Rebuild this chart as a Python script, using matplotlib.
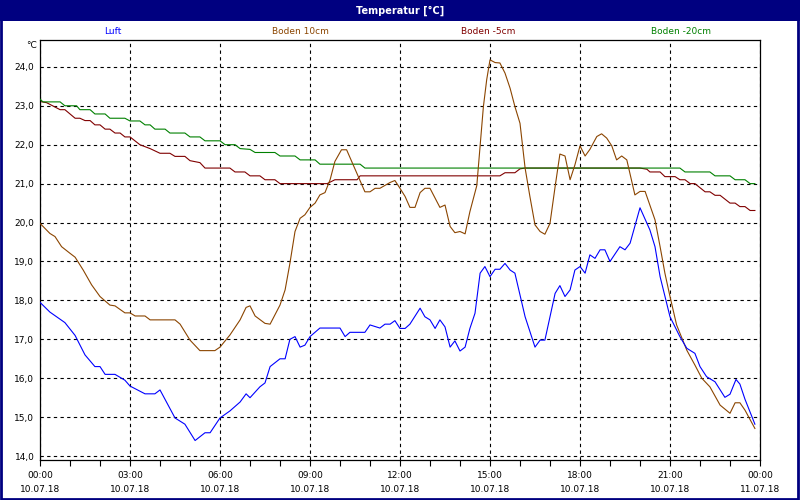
import numpy as np
import matplotlib
matplotlib.use("Agg")
from matplotlib import pyplot as plt
from matplotlib.patches import Rectangle

# Temperatur-Tagesgang 10.07.18 (Zeit in Stunden ab 00:00)

luft_t = [0.0, 0.33, 0.83, 1.17, 1.5, 1.83, 2.0, 2.17, 2.5, 2.83, 3.0, 3.5, 3.83, 4.0,
          4.5, 4.83, 5.17, 5.5, 5.67, 6.0, 6.33, 6.67, 6.87, 7.0, 7.33, 7.5, 7.67, 8.0,
          8.17, 8.33, 8.5, 8.67, 8.83, 9.0, 9.33, 10.0, 10.17, 10.33, 10.83, 11.0, 11.33,
          11.5, 11.67, 11.83, 12.0, 12.17, 12.33, 12.67, 12.83, 13.0, 13.17, 13.33, 13.5,
          13.67, 13.83, 14.0, 14.17, 14.33, 14.5, 14.67, 14.83, 15.0, 15.17, 15.33, 15.5,
          15.67, 15.83, 16.17, 16.5, 16.67, 16.83, 17.17, 17.33, 17.5, 17.67, 17.83, 18.0,
          18.17, 18.33, 18.5, 18.67, 18.83, 19.0, 19.33, 19.5, 19.67, 20.0, 20.33, 20.5,
          20.67, 21.0, 21.33, 21.56, 21.83, 22.0, 22.22, 22.5, 22.83, 23.0, 23.2, 23.33,
          23.5, 23.83]
luft = [17.95, 17.7, 17.43, 17.1, 16.6, 16.3, 16.3, 16.1, 16.1, 15.95, 15.8, 15.6, 15.6, 15.7,
        14.98, 14.82, 14.4, 14.6, 14.6, 14.98, 15.16, 15.39, 15.6, 15.5, 15.78, 15.88, 16.3, 16.5,
        16.5, 17.0, 17.07, 16.8, 16.85, 17.07, 17.29, 17.29, 17.07, 17.18, 17.18, 17.37, 17.29,
        17.39, 17.39, 17.48, 17.28, 17.28, 17.39, 17.8, 17.58, 17.5, 17.28, 17.5, 17.32,
        16.8, 16.96, 16.7, 16.8, 17.28, 17.67, 18.7, 18.87, 18.61, 18.8, 18.8, 18.95,
        18.78, 18.7, 17.58, 16.8, 16.98, 16.98, 18.18, 18.38, 18.1, 18.27, 18.78, 18.87,
        18.7, 19.17, 19.08, 19.3, 19.3, 19.0, 19.38, 19.3, 19.47, 20.38, 19.81, 19.38,
        18.61, 17.58, 17.07, 16.77, 16.64, 16.3, 16.04, 15.91, 15.51, 15.59, 15.97, 15.85,
        15.46, 14.82]

b10_t = [0.0, 0.33, 0.5, 0.72, 1.0, 1.17, 1.44, 1.72, 2.0, 2.33, 2.5, 2.83, 3.0, 3.17, 3.5,
         3.67, 4.5, 4.67, 5.0, 5.33, 5.83, 6.0, 6.33, 6.67, 6.87, 7.0, 7.17, 7.5, 7.67, 8.0,
         8.17, 8.33, 8.5, 8.67, 8.83, 9.0, 9.17, 9.33, 9.5, 9.67, 9.83, 10.05, 10.22, 10.39,
         10.56, 10.83, 11.0, 11.17, 11.33, 11.67, 11.83, 12.0, 12.17, 12.33, 12.5, 12.67,
         12.83, 13.0, 13.33, 13.5, 13.67, 13.83, 14.0, 14.17, 14.33, 14.56, 14.78, 14.89,
         15.0, 15.17, 15.33, 15.5, 15.67, 15.83, 16.0, 16.17, 16.33, 16.5, 16.67, 16.83,
         17.0, 17.17, 17.33, 17.5, 17.67, 17.83, 18.0, 18.17, 18.33, 18.56, 18.72, 18.89,
         19.06, 19.22, 19.39, 19.56, 19.83, 20.0, 20.17, 20.5, 20.67, 20.83, 21.0, 21.22,
         21.56, 21.83, 22.06, 22.33, 22.67, 23.0, 23.17, 23.33, 23.5, 23.83]
boden_10 = [19.98, 19.72, 19.64, 19.38, 19.21, 19.11, 18.78, 18.4, 18.1, 17.88, 17.86, 17.68, 17.68, 17.6, 17.6,
            17.5, 17.5, 17.39, 16.98, 16.71, 16.71, 16.8, 17.11, 17.5, 17.82, 17.86, 17.6, 17.41, 17.39, 17.88,
            18.27, 18.95, 19.77, 20.11, 20.2, 20.39, 20.5, 20.71, 20.77, 21.1, 21.57, 21.87, 21.87, 21.57,
            21.27, 20.79, 20.79, 20.88, 20.88, 21.03, 21.08, 20.88, 20.67, 20.39, 20.39, 20.77,
            20.88, 20.88, 20.39, 20.45, 19.9, 19.74, 19.77, 19.71, 20.28, 20.95, 22.98, 23.67,
            24.18, 24.11, 24.1, 23.84, 23.45, 22.98, 22.55, 21.4, 20.67, 19.94, 19.77, 19.7,
            19.98, 20.92, 21.76, 21.71, 21.1, 21.48, 21.97, 21.71, 21.88, 22.21, 22.28, 22.17,
            21.97, 21.61, 21.71, 21.61, 20.71, 20.8, 20.8, 20.07, 19.38, 18.7, 18.1, 17.37,
            16.72, 16.34, 16.0, 15.78, 15.31, 15.1, 15.37, 15.37, 15.18, 14.71]

b5_t = [0.0, 0.22, 0.67, 0.83, 1.17, 1.33, 1.5, 1.67, 1.83, 2.0, 2.17, 2.33, 2.5, 2.67, 2.83,
        3.0, 3.33, 3.67, 4.0, 4.33, 4.5, 4.83, 5.0, 5.33, 5.5, 6.33, 6.5, 6.83, 7.0, 7.33,
        7.5, 7.83, 8.0, 9.57, 9.83, 10.57, 10.67, 15.33, 15.5, 15.83, 16.0, 16.17, 20.0,
        20.23, 20.33, 20.67, 20.83, 21.17, 21.33, 21.5, 21.67, 21.83, 22.17, 22.33, 22.5,
        22.67, 23.0, 23.17, 23.33, 23.5, 23.67, 23.83]
boden_5 = [23.11, 23.08, 22.9, 22.9, 22.68, 22.68, 22.62, 22.62, 22.51, 22.51, 22.4, 22.4, 22.3, 22.3, 22.2,
           22.2, 22.0, 21.9, 21.78, 21.78, 21.7, 21.7, 21.59, 21.54, 21.4, 21.4, 21.3, 21.3, 21.2, 21.2,
           21.1, 21.1, 21.0, 21.0, 21.1, 21.1, 21.2, 21.2, 21.28, 21.28, 21.38, 21.4, 21.4,
           21.37, 21.3, 21.3, 21.18, 21.18, 21.1, 21.1, 21.0, 21.0, 20.79, 20.79, 20.7,
           20.7, 20.5, 20.5, 20.41, 20.41, 20.31, 20.31]

b20_t = [0.0, 0.1, 0.67, 0.83, 1.22, 1.33, 1.67, 1.83, 2.17, 2.33, 2.83, 3.0, 3.33, 3.5, 3.67,
         3.83, 4.17, 4.33, 4.83, 5.0, 5.33, 5.5, 6.0, 6.17, 6.5, 6.67, 7.0, 7.17, 7.83, 8.0,
         8.5, 8.67, 9.17, 9.33, 10.67, 10.83, 21.33, 21.5, 22.33, 22.5, 23.0, 23.17, 23.5,
         23.67, 23.83]
boden_20 = [23.17, 23.1, 23.1, 23.0, 23.0, 22.9, 22.9, 22.79, 22.79, 22.68, 22.68, 22.61, 22.61, 22.51, 22.51,
            22.4, 22.4, 22.3, 22.3, 22.2, 22.2, 22.1, 22.1, 22.0, 22.0, 21.9, 21.88, 21.8, 21.8, 21.71,
            21.71, 21.61, 21.61, 21.5, 21.5, 21.4, 21.4, 21.3, 21.3, 21.2, 21.2, 21.1, 21.1,
            21.0, 21.0]

labels = ["Luft", "Boden 10cm", "Boden -5cm", "Boden -20cm"]
colors = ["#0000ff", "#8b4500", "#800000", "#008000"]

x_ticks = [0, 3, 6, 9, 12, 15, 18, 21, 24]
x_ticklabels = ["00:00\n10.07.18", "03:00\n10.07.18", "06:00\n10.07.18", "09:00\n10.07.18",
                "12:00\n10.07.18", "15:00\n10.07.18", "18:00\n10.07.18", "21:00\n10.07.18",
                "00:00\n11.07.18"]
y_ticks = [14, 15, 16, 17, 18, 19, 20, 21, 22, 23, 24]

plt.rcParams['font.family'] = ['DejaVu Sans']
navy = "#000080"

fig = plt.figure(figsize=(8, 5), dpi=100, facecolor="white")

# title bar + frame
fig.patches.append(Rectangle((0, 1 - 21 / 500), 1, 21 / 500, transform=fig.transFigure,
                             facecolor=navy, edgecolor="none", zorder=0))
fig.patches.append(Rectangle((0.001, 0.002), 0.997, 0.996, transform=fig.transFigure,
                             facecolor="none", edgecolor=navy, linewidth=2, zorder=5))
fig.text(0.5, 1 - 10.5 / 500, "Temperatur [°C]", color="white", fontsize=7,
         fontweight="bold", ha="center", va="center")

# legend as coloured text
for xc, lab, col in zip([113, 300, 488, 681], labels, colors):
    fig.text(xc / 800, 1 - 31 / 500, lab, color=col, fontsize=6.5, ha="center", va="center")
fig.text(37 / 800, 1 - 45 / 500, "°C", fontsize=6.5, ha="right", va="center")

ax = fig.add_axes([40 / 800, 40 / 500, 720 / 800, 420 / 500])
ax.set_facecolor("white")

# drawing order as in the original: -5cm below -20cm, then 10cm, Luft on top
series = [(luft_t, luft), (b10_t, boden_10), (b5_t, boden_5), (b20_t, boden_20)]
zorders = [5, 4, 2, 3]
for (t, v), col, lab, z in zip(series, colors, labels, zorders):
    ax.plot(t, v, color=col, linewidth=0.8, label=lab, zorder=z)

ax.set_xlim(0, 24)
ax.set_ylim(13.9, 24.69)
ax.set_xticks(x_ticks)
ax.set_xticklabels(x_ticklabels, fontsize=6.5, linespacing=1.7)
ax.set_xticks(np.arange(0, 25, 1), minor=True)
ax.set_yticks(y_ticks)
ax.set_yticklabels([("%.1f" % v).replace(".", ",") for v in y_ticks], fontsize=6.5)
ax.tick_params(axis="x", which="both", direction="out", length=4, width=0.8, pad=4)
ax.tick_params(axis="y", length=0, pad=4)
ax.grid(True, which="major", color="black", linestyle=(0, (3, 3)), linewidth=0.8)
for s in ax.spines.values():
    s.set_linewidth(0.9)
    s.set_color("black")

plt.savefig("out.png", dpi=100, facecolor="white")
